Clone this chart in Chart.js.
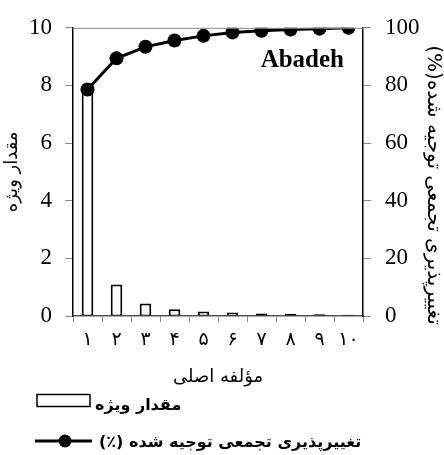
<!DOCTYPE html>
<html>
<head>
<meta charset="utf-8">
<script src="https://cdn.jsdelivr.net/npm/chart.js@4"></script>
<style>
  html, body { margin: 0; padding: 0; background: #fff; }
  #wrap { width: 444px; height: 455px; }
</style>
</head>
<body>
<div id="wrap"><canvas id="mycanvas" dir="rtl"></canvas></div>
<script>
// values
var components = ['۱', '۲', '۳', '۴', '۵', '۶', '۷', '۸', '۹', '۱۰'];
var eigenvalues = [7.86, 1.09, 0.43, 0.23, 0.16, 0.12, 0.09, 0.08, 0.06, 0.04];
var cumulative = [78.6, 89.4, 93.4, 95.6, 97.2, 98.4, 99.0, 99.4, 99.7, 100];

var seriesNames = ['مقدار ویژه', 'تغییرپذیری تجمعی توجیه شده (٪)'];
var xTitle = 'مؤلفه اصلی';
var yTitle = 'مقدار ویژه';
var y1Title = 'تغییرپذیری تجمعی توجیه شده(%)';
var siteName = 'Abadeh';

var serif = '"Liberation Serif", "Times New Roman", serif';
var persian = '"DejaVu Sans", sans-serif';

// legend, site label, right axis title and top frame line
var extras = {
  id: 'extras',
  afterDraw: function(chart) {
    var ctx = chart.ctx;
    var a = chart.chartArea;
    ctx.save();
    ctx.strokeStyle = '#888';
    ctx.lineWidth = 1;
    ctx.beginPath();
    ctx.moveTo(a.left, a.top + 0.5);
    ctx.lineTo(a.right, a.top + 0.5);
    ctx.stroke();

    ctx.direction = 'ltr';
    ctx.fillStyle = '#000';
    ctx.font = 'bold 25px ' + serif;
    ctx.textAlign = 'right';
    ctx.textBaseline = 'alphabetic';
    ctx.fillText(siteName, a.right - 19, 67);

    // right axis title, sits a bit lower than the axis middle
    ctx.save();
    ctx.direction = 'rtl';
    ctx.translate(433, 185);
    ctx.rotate(Math.PI / 2);
    ctx.textAlign = 'center';
    ctx.textBaseline = 'middle';
    ctx.font = '20px ' + persian;
    ctx.fillText(y1Title, 0, 0);
    ctx.restore();

    // legend
    var bars = chart.data.datasets[1];
    var line = chart.data.datasets[0];
    ctx.direction = 'rtl';
    ctx.textAlign = 'left';
    ctx.textBaseline = 'middle';
    ctx.font = 'bold 16px ' + persian;
    ctx.lineWidth = 1.5;
    ctx.strokeStyle = '#000';
    ctx.fillStyle = '#fff';
    ctx.fillRect(37, 394.5, 53, 12);
    ctx.strokeRect(37, 394.5, 53, 12);
    ctx.fillStyle = '#000';
    ctx.fillText(bars.label, 95, 406);

    ctx.lineWidth = 3;
    ctx.beginPath();
    ctx.moveTo(35, 441);
    ctx.lineTo(92, 441);
    ctx.stroke();
    ctx.beginPath();
    ctx.arc(65, 441, 6.5, 0, Math.PI * 2);
    ctx.fill();
    ctx.fillText(line.label, 99, 443);
    ctx.restore();
  }
};

var chartdata = {
  labels: components,
  datasets: [
    {
      type: 'line',
      label: seriesNames[1],
      data: cumulative,
      yAxisID: 'y1',
      borderColor: '#000',
      backgroundColor: '#000',
      borderWidth: 3,
      pointRadius: 7,
      pointBackgroundColor: '#000',
      pointBorderWidth: 0,
      order: 0
    },
    {
      type: 'bar',
      label: seriesNames[0],
      data: eigenvalues,
      yAxisID: 'y',
      backgroundColor: '#fff',
      borderColor: '#000',
      borderWidth: { top: 2, left: 2, right: 2, bottom: 1 },
      borderSkipped: false,
      categoryPercentage: 1,
      barPercentage: 0.4,
      order: 1
    }
  ]
};

var ctx = document.getElementById('mycanvas');
var chart = new Chart(ctx, {
  data: chartdata,
  plugins: [extras],
  options: {
    responsive: true,
    maintainAspectRatio: false,
    animation: false,
    layout: { padding: { top: 27, bottom: 64, left: 0, right: 0 } },
    plugins: { legend: { display: false }, tooltip: { enabled: false } },
    scales: {
      x: {
        offset: true,
        afterFit: function(s) { s.height = 75; },
        grid: { drawOnChartArea: false, offset: true, tickLength: 6, color: '#888' },
        border: { color: '#555', width: 1.5 },
        ticks: { color: '#000', padding: 7, font: { family: persian, size: 19 } },
        title: { display: true, text: xTitle, color: '#000', padding: { top: 0, bottom: 3 },
                 font: { family: persian, size: 18 } }
      },
      y: {
        position: 'left',
        min: 0, max: 10,
        afterFit: function(s) { s.width = 73; },
        grid: { drawOnChartArea: false, tickLength: 8, color: '#888' },
        border: { color: '#000', width: 1.5 },
        ticks: { stepSize: 2, color: '#000', padding: 13, font: { family: serif, size: 23 } },
        title: { display: true, text: yTitle, color: '#000', padding: { top: 2, bottom: 0 },
                 font: { family: persian, size: 18 } }
      },
      y1: {
        position: 'right',
        min: 0, max: 100,
        afterFit: function(s) { s.width = 81; },
        grid: { drawOnChartArea: false, tickLength: 8, color: '#888' },
        border: { color: '#000', width: 1.5 },
        ticks: { stepSize: 20, color: '#000', padding: 14, font: { family: serif, size: 23 } },
        title: { display: false, text: y1Title }
      }
    }
  }
});
</script>
</body>
</html>
